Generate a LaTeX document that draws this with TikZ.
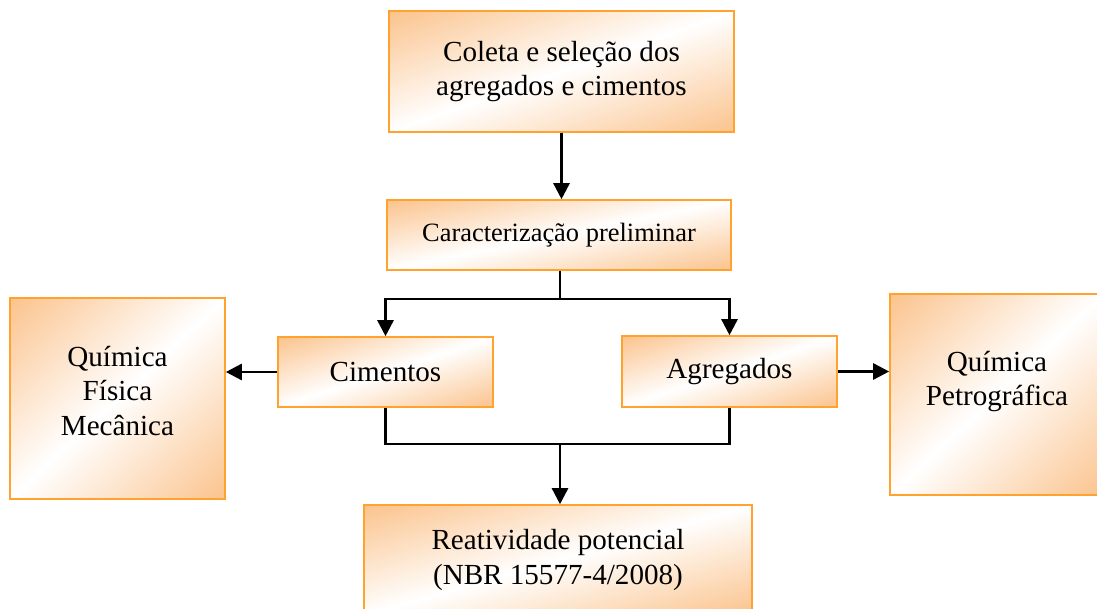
\documentclass[tikz,border=0pt]{standalone}
\usepackage{fontspec}
\setmainfont{Liberation Serif}
\usepackage{xcolor}
\definecolor{o2}{HTML}{FFA22E}
\usetikzlibrary{arrows.meta}
% laranja FBC38D nos cantos, branco na diagonal
\pgfdeclarefunctionalshading{diagonal}{\pgfpoint{0bp}{0bp}}{\pgfpoint{100bp}{100bp}}{}{
  sub abs 50 div
  dup 1 gt {pop 1} if
  dup 0.016 mul 1 exch sub
  exch dup 0.235 mul 1 exch sub
  exch 0.447 mul 1 exch sub}

\begin{document}
\begin{tikzpicture}[x=0.025cm,y=-0.025cm,
  caixa/.style={draw=o2,line width=1.1pt,shading=diagonal,
    align=center,inner sep=0pt,font=\fontsize{20.7}{24.5}\selectfont},
  texto/.style={align=center,font=\fontsize{20.7}{24.5}\selectfont},
  linha/.style={line width=1.8pt},
  seta/.style={line width=1.8pt,-{Triangle[length=0.4cm,width=0.4cm]}}]
  \path[use as bounding box,clip] (0,0) rectangle (1097,609);

  \node[caixa,minimum width=8.625cm,minimum height=3.025cm] (coleta) at (561.5,71.5) {Coleta e seleção dos\\agregados e cimentos};
  \node[caixa,minimum width=8.6cm,minimum height=1.75cm,font=\fontsize{18.8}{22.5}\selectfont] (carac) at (559,235) {Caracterização preliminar};
  \node[caixa,minimum width=5.375cm,minimum height=1.75cm] (cim) at (385.5,372) {Cimentos};
  \node[caixa,minimum width=5.375cm,minimum height=1.775cm] (agr) at (729.5,371.5) {Agregados};
  \node[caixa,minimum width=5.375cm,minimum height=5.025cm] (qfm) at (117.5,398.5) {};
  \node[texto] (qfmtxt) at (117.5,391) {Química\\Física\\Mecânica};
  \node[caixa,minimum width=5.35cm,minimum height=5.025cm] (qpe) at (997,394.5) {};
  \node[texto] (qpetxt) at (997,381.5) {Química\\Petrográfica};
  \node[caixa,minimum width=9.7cm,minimum height=2.75cm] (reat) at (558,560) {Reatividade potencial\\(NBR 15577-4/2008)};

  \coordinate (div) at (560,299);
  \coordinate (junta) at (560,444);

  \draw[seta] (coleta.south) -- (coleta.south |- carac.north);
  \draw[linha] (carac.south -| div) -- (div);
  \draw[seta] (div) -| (cim.north);
  \draw[seta] (div) -| (agr.north);
  \draw[linha] (cim.south) |- (junta);
  \draw[linha] (agr.south) |- (junta);
  \draw[seta] (junta) -- (junta |- reat.north);
  \draw[seta] (cim.west) -- (cim.west -| qfm.east);
  \draw[seta] (agr.east) -- (agr.east -| qpe.west);
\end{tikzpicture}
\end{document}
